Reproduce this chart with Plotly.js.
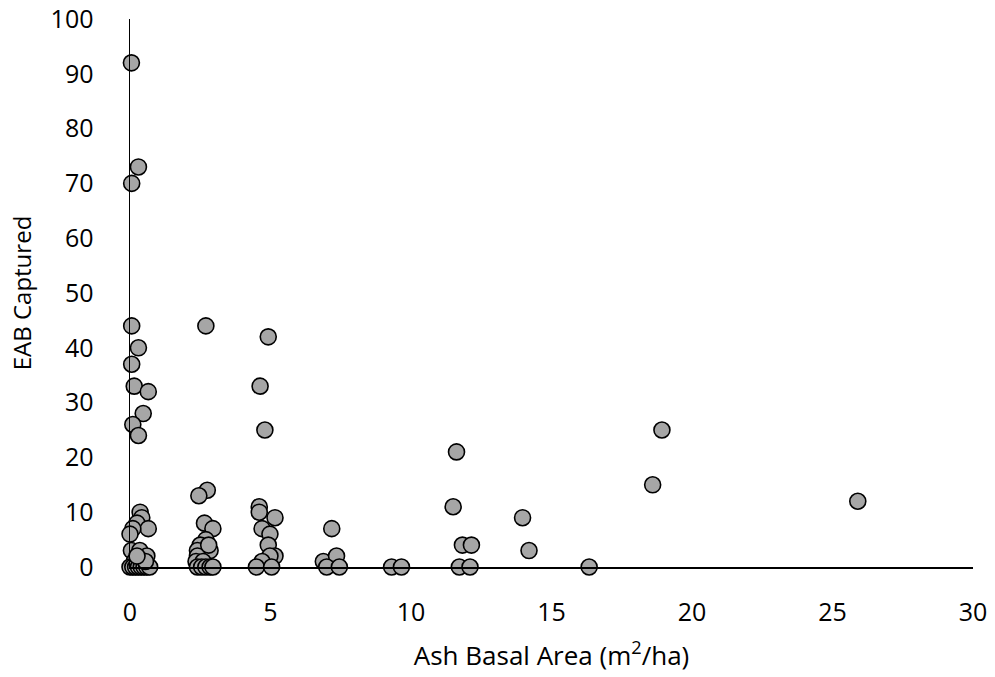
<!DOCTYPE html>
<html><head><meta charset="utf-8">
<script src="https://cdn.plot.ly/plotly-3.0.1.min.js"></script>
<style>html,body{margin:0;padding:0;background:#fff}#chart{width:995px;height:677px}</style>
</head><body><div id="chart"></div>
<script>
const basalArea = [
  0.05,0.3,0.06,0.06,0.3,0.06,0.15,0.65,0.47,0.1,0.3,0.36,0.42,0.25,0.65,0.1,0.0,0.05,0.35,0.6,0.15,0.45,0.0,0.1,0.2,0.3,0.4,0.5,0.6,0.7,0.55,0.25,
  2.7,2.75,2.45,2.65,2.95,2.7,2.5,2.4,2.85,2.4,2.35,2.6,2.4,2.55,2.7,2.85,2.95,2.8,
  4.92,4.63,4.8,4.6,4.6,5.16,4.7,4.98,4.92,5.16,4.98,4.7,4.5,5.04,
  7.18,6.88,7.35,7.0,7.45,9.31,9.66,11.62,11.5,11.83,12.15,11.72,12.1,13.97,14.2,16.34,18.6,18.93,25.9
];
const eabCaptured = [
  92,73,70,44,40,37,33,32,28,26,24,10,9,8,7,7,6,3,3,2,1,1,0,0,0,0,0,0,0,0,1,2,
  44,14,13,8,7,5,4,3,3,2,1,1,0,0,0,0,0,4,
  42,33,25,11,10,9,7,6,4,2,2,1,0,0,
  7,1,2,0,0,0,0,21,11,4,4,0,0,9,3,0,15,25,12
];
const xTicks = [0,5,10,15,20,25,30];
const yTicks = [0,10,20,30,40,50,60,70,80,90,100];

const font = {family: '"Open Sans", sans-serif', color: '#000'};
Plotly.newPlot('chart', [{
  x: basalArea, y: eabCaptured, type: 'scatter', mode: 'markers', cliponaxis: false,
  marker: {size: 16, color: '#a6a6a6', line: {color: '#000', width: 1.6}}
}], {
  width: 995, height: 677,
  margin: {l: 130, r: 22, t: 19, b: 110},
  paper_bgcolor: '#fff', plot_bgcolor: '#fff',
  showlegend: false,
  xaxis: {range: [0, 30], tickvals: xTicks, showgrid: false, zeroline: false,
    showline: true, linecolor: '#000', linewidth: 1.5, ticks: '', ticklabelstandoff: 22,
    tickfont: Object.assign({size: 25}, font),
    title: {text: 'Ash Basal Area (m<sup>2</sup>/ha)', font: Object.assign({size: 26}, font), standoff: 20}},
  yaxis: {range: [0, 100], tickvals: yTicks, showgrid: false, zeroline: false,
    showline: true, linecolor: '#000', linewidth: 1.5, ticks: '', ticklabelstandoff: 30,
    tickfont: Object.assign({size: 25}, font),
    title: {text: 'EAB Captured', font: Object.assign({size: 24}, font), standoff: 12}}
}, {displayModeBar: false, staticPlot: true});
</script></body></html>
